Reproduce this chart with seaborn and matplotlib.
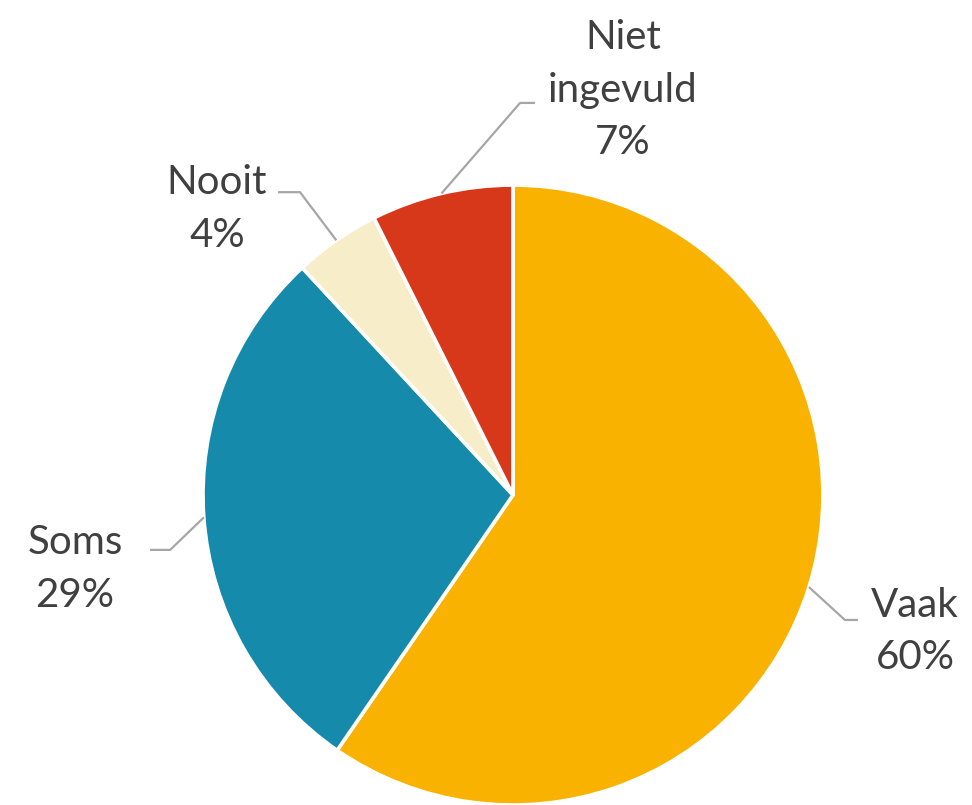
#!/usr/bin/env python

import matplotlib
matplotlib.use('Agg')
import matplotlib.pyplot as plt
import numpy as np
import seaborn as sns

CATEGORIES = ['Vaak', 'Soms', 'Nooit', 'Niet\ningevuld']
SHARES = [59.6, 28.5, 4.5, 7.4]
LABELS = ['Vaak\n60%', 'Soms\n29%', 'Nooit\n4%', 'Niet\ningevuld\n7%']
COLORS = ['#F9B200', '#168AAB', '#F8EDC9', '#D8381A']

# label layout (data units, pie radius = 1): elbow, line end, text centre
ELBOWS = [(1.071, -0.403), (-1.106, -0.177), (-0.687, 0.977), (0.023, 1.265)]
ENDS = [(1.113, -0.403), (-1.171, -0.177), (-0.758, 0.977), (0.071, 1.265)]
TEXT_POS = [(1.297, -0.440), (-1.413, -0.239), (-0.955, 0.923), (0.355, 1.306)]


def main():
    sns.set_style('white')
    plt.rcParams['font.family'] = ['Lato', 'DejaVu Sans']

    fig = plt.figure(figsize=(9.72, 8.05), dpi=100)
    ax = fig.add_axes([0, 0, 1, 1])
    wedges, _ = ax.pie(
        SHARES,
        colors=COLORS,
        startangle=90,
        counterclock=False,
        radius=1,
        wedgeprops={'edgecolor': 'white', 'linewidth': 2.6},
    )

    for w, label, elbow, end, pos in zip(wedges, LABELS, ELBOWS, ENDS, TEXT_POS):
        mid = np.deg2rad((w.theta1 + w.theta2) / 2)
        start = (np.cos(mid), np.sin(mid))
        ax.plot([start[0], elbow[0], end[0]], [start[1], elbow[1], end[1]],
                color='#A6A6A6', lw=1.6, solid_capstyle='butt')
        ax.text(pos[0], pos[1], label, ha='center', va='center',
                fontsize=29, color='#404040', linespacing=1.52)

    ax.set_xlim(-1.655, 1.481)
    ax.set_ylim(-1.0, 1.597)
    ax.set_aspect('auto')
    ax.axis('off')
    fig.savefig('out.png', dpi=100)
    plt.close(fig)


if __name__ == '__main__':
    main()
